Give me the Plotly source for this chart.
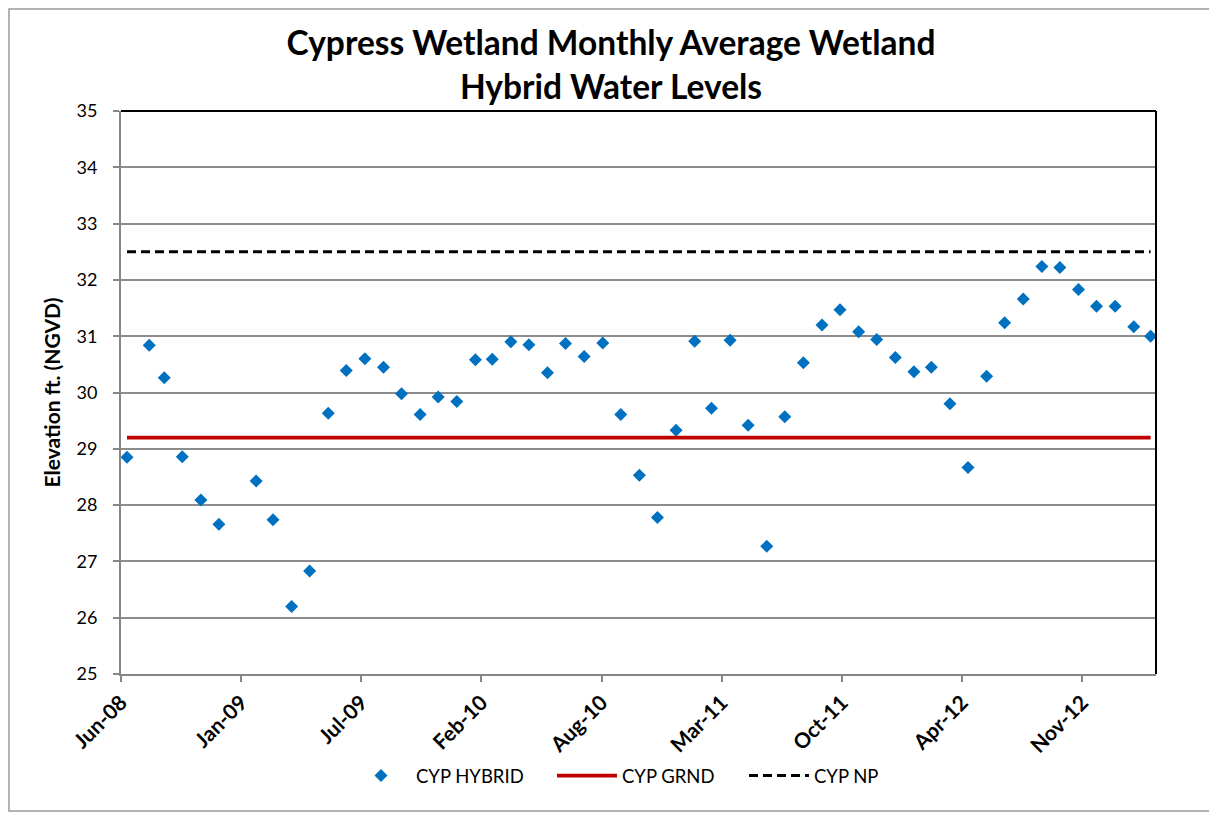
import plotly.graph_objects as go

# ---- data ----
dates = [
    "2008-06-30", "2008-08-06", "2008-08-31", "2008-09-30", "2008-10-31", "2008-11-30",
    "2009-01-31", "2009-02-28", "2009-03-31", "2009-04-30", "2009-05-31", "2009-06-30",
    "2009-07-31", "2009-08-31", "2009-09-30", "2009-10-31", "2009-11-30", "2009-12-31",
    "2010-01-31", "2010-02-28", "2010-03-31", "2010-04-30", "2010-05-31", "2010-06-30",
    "2010-07-31", "2010-08-31", "2010-09-30", "2010-10-31", "2010-11-30", "2010-12-31",
    "2011-01-31", "2011-02-28", "2011-03-31", "2011-04-30", "2011-05-31", "2011-06-30",
    "2011-07-31", "2011-08-31", "2011-09-30", "2011-10-31", "2011-11-30", "2011-12-31",
    "2012-01-31", "2012-02-29", "2012-03-31", "2012-04-30", "2012-05-31", "2012-06-30",
    "2012-07-31", "2012-08-31", "2012-09-30", "2012-10-31", "2012-11-30", "2012-12-31",
    "2013-01-31", "2013-02-28",
]
cyp_hybrid = [
    28.85, 30.84, 30.26, 28.86, 28.09, 27.66,
    28.43, 27.74, 26.20, 26.83, 29.63, 30.39,
    30.60, 30.45, 29.98, 29.61, 29.92, 29.84,
    30.58, 30.59, 30.90, 30.85, 30.35, 30.87,
    30.64, 30.88, 29.61, 28.53, 27.78, 29.33,
    30.91, 29.72, 30.93, 29.42, 27.27, 29.57,
    30.53, 31.20, 31.47, 31.08, 30.94, 30.62,
    30.37, 30.45, 29.80, 28.67, 30.29, 31.24,
    31.66, 32.24, 32.22, 31.83, 31.53, 31.53,
    31.17, 31.00,
]
cyp_grnd_level = 29.2
cyp_np_level = 32.5

title_lines = ["Cypress Wetland Monthly Average Wetland", "Hybrid Water Levels"]
y_title = "Elevation ft. (NGVD)"

FONT = "Lato, 'Open Sans', sans-serif"
AXIS_GRAY = "#868686"

# page offset (browser body margin)
OFF = 8
W, H = 1217 - OFF, 813 - OFF
# plot area in reference page pixels
L, R, T, B = 121 - OFF, 1156 - OFF, 111 - OFF, 674 - OFF
pw, ph = R - L, B - T


def px(x):  # reference page x -> paper
    return (x - OFF - L) / pw


def py(y):  # reference page y -> paper
    return (B - (y - OFF)) / ph


fig = go.Figure()
fig.add_trace(go.Scatter(
    x=dates, y=cyp_hybrid, mode="markers", name="CYP HYBRID",
    marker=dict(symbol="diamond", size=10, color="#0070C0"),
    legendwidth=131,
))
fig.add_trace(go.Scatter(
    x=[dates[0], dates[-1]], y=[cyp_grnd_level, cyp_grnd_level], mode="lines",
    name="CYP GRND", line=dict(color="#C00000", width=3.8),
    legendwidth=117,
))
fig.add_trace(go.Scatter(
    x=[dates[0], dates[-1]], y=[cyp_np_level, cyp_np_level], mode="lines",
    name="CYP NP", line=dict(color="#000000", width=3, dash="9px,5px"),
))

fig.update_layout(
    width=W, height=H,
    margin=dict(l=L, r=W - R, t=T, b=H - B, pad=0),
    paper_bgcolor="white", plot_bgcolor="white",
    font=dict(family=FONT, size=18, color="#000000"),
    title=dict(
        text="<br>".join(title_lines),
        font=dict(family=FONT, size=33.5, color="#000000", weight="bold"),
        x=px(611), xanchor="center", xref="paper",
        y=1 - (55 - OFF) / H, yanchor="middle", yref="container",
    ),
    showlegend=True,
    legend=dict(
        orientation="h", x=px(346), xanchor="left", y=py(776), yanchor="middle",
        font=dict(family=FONT, size=18.5, color="#000000"),
        itemwidth=60, bgcolor="rgba(0,0,0,0)",
    ),
    xaxis=dict(
        type="date",
        range=["2008-06-20", "2013-03-09"],
        tick0="2008-06-20", dtick=200 * 86400000,
        tickformat="%b-%y", tickangle=-45,
        showgrid=False, zeroline=False,
        showline=True, linecolor=AXIS_GRAY, linewidth=2,
        ticks="outside", ticklen=6, tickwidth=2, tickcolor=AXIS_GRAY,
        tickfont=dict(family=FONT, size=21, color="#000000", weight="bold"),
    ),
    yaxis=dict(
        range=[25, 35], dtick=1, tick0=25,
        showgrid=True, gridcolor="#8c8c8c", gridwidth=1.5,
        zeroline=False,
        showline=True, linecolor=AXIS_GRAY, linewidth=2,
        ticks="outside", ticklen=6, tickwidth=2, tickcolor=AXIS_GRAY,
        ticklabelstandoff=12,
        tickfont=dict(family=FONT, size=18, color="#000000"),
        title=dict(text=y_title, standoff=10,
                   font=dict(family=FONT, size=21, color="#000000", weight="bold")),
    ),
    shapes=[
        # top and right plot-area border (black)
        dict(type="line", xref="paper", yref="paper", x0=0, x1=1, y0=1, y1=1,
             line=dict(color="#000000", width=2), layer="above"),
        dict(type="line", xref="paper", yref="paper", x0=1, x1=1, y0=0, y1=1,
             line=dict(color="#000000", width=2), layer="above"),
        # outer chart border
        dict(type="rect", xref="paper", yref="paper",
             x0=(1 - L) / pw, x1=(1204 - L) / pw, y0=(B - 803) / ph, y1=(B - 1) / ph,
             line=dict(color="#9a9a9a", width=1.5), layer="below"),
    ],
)

fig.write_html("out.html")
